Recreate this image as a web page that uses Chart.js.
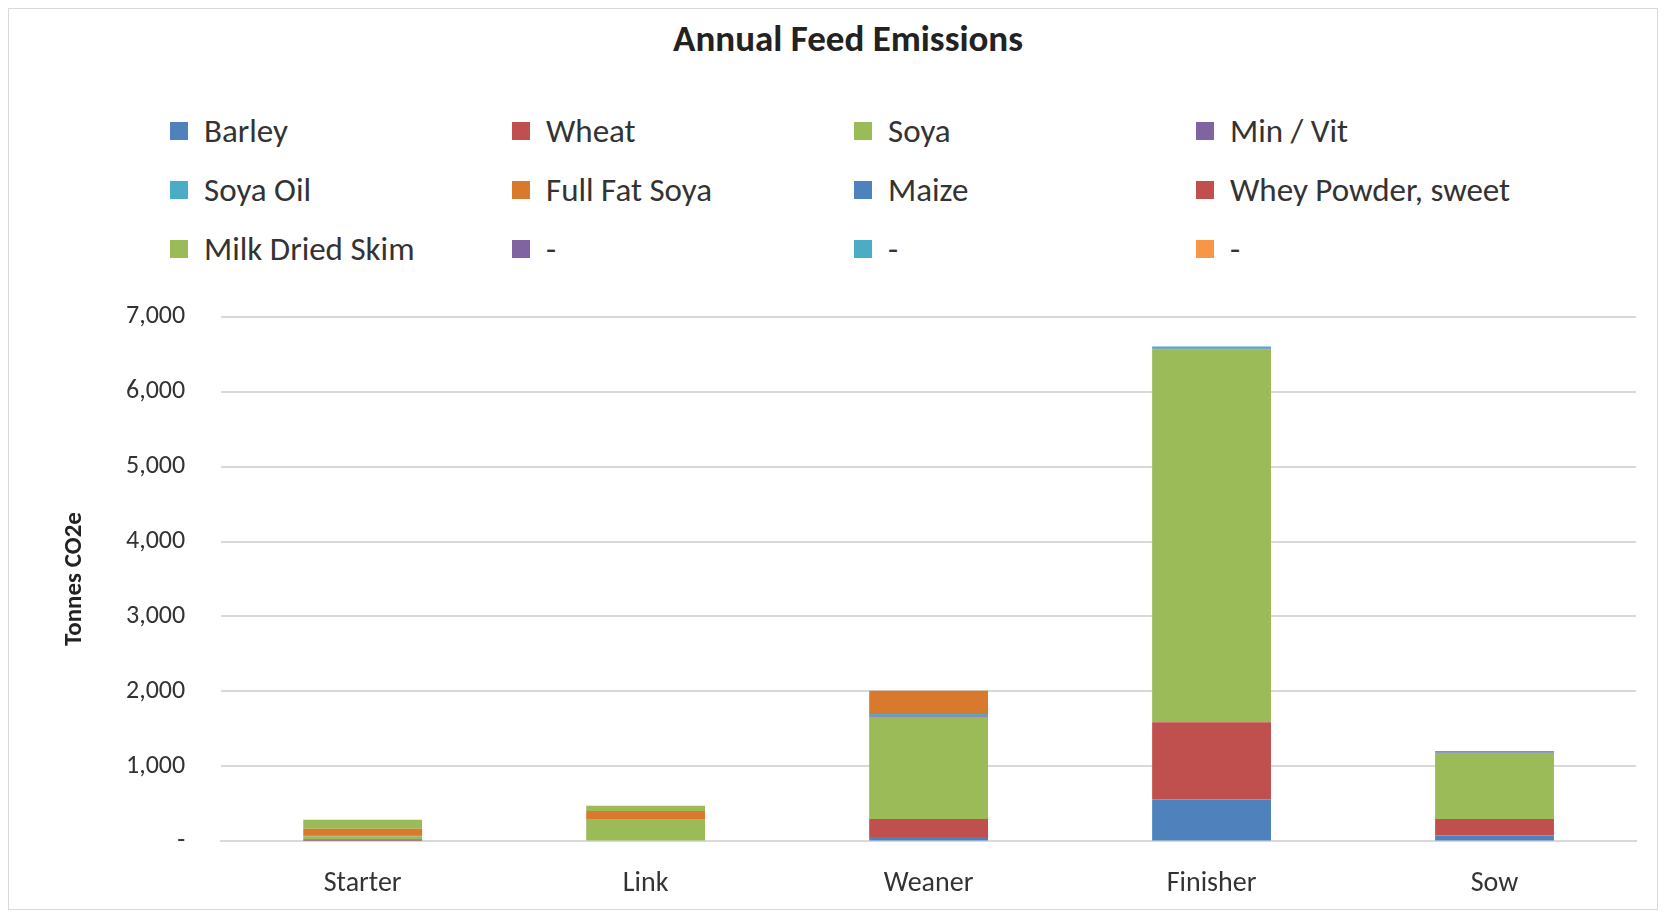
<!DOCTYPE html>
<html>
<head>
<meta charset="utf-8">
<script src="https://cdn.jsdelivr.net/npm/chart.js@4"></script>
<style>
  body { margin: 0; background: #fff; font-family: Calibri, Carlito, "Open Sans", sans-serif; overflow: hidden; }
  #frame { position: absolute; left: 8px; top: 8px; width: 1648px; height: 900px; border: 1px solid #d9d9d9; }
  #title { position: absolute; top: 16px; width: 100%; text-align: center; font-weight: bold; font-size: 37px; color: #222; padding-left: 30px; box-sizing: border-box; }
  #legend { position: absolute; left: 170px; top: 112px; display: grid; grid-template-columns: 342px 342px 342px 342px; row-gap: 21px; }
  .item { font-size: 33px; color: #333; display: flex; align-items: center; height: 38px; }
  .sw { width: 18px; height: 18px; margin-right: 16px; }
  #wrap { position: absolute; left: 0; top: 265px; width: 1666px; height: 654px; }
</style>
</head>
<body>
<div id="frame"></div>
<div id="title">Annual Feed Emissions</div>
<div id="legend"></div>
<div id="wrap"><canvas id="c"></canvas></div>
<script>
const categories = ['Starter', 'Link', 'Weaner', 'Finisher', 'Sow'];
const seriesNames = ['Barley', 'Wheat', 'Soya', 'Min / Vit', 'Soya Oil', 'Full Fat Soya', 'Maize', 'Whey Powder, sweet', 'Milk Dried Skim', '-', '-', '-'];
const seriesColors = ['#4F81BD', '#C0504D', '#9BBB59', '#8064A2', '#4BACC6', '#D9792E', '#4F81BD', '#C0504D', '#9BBB59', '#8064A2', '#4BACC6', '#F79646'];
const barley = [10, 0, 60, 560, 80];
const wheat = [20, 0, 240, 1030, 220];
const soya = [40, 290, 1360, 4970, 880];
const minVit = [5, 5, 10, 10, 5];
const soyaOil = [0, 0, 30, 30, 20];
const fullFatSoya = [95, 110, 310, 0, 0];
const maize = [0, 0, 0, 0, 0];
const whey = [0, 0, 0, 0, 0];
const milkDriedSkim = [120, 70, 0, 0, 0];
const blank = [0, 0, 0, 0, 0];
const seriesValues = [barley, wheat, soya, minVit, soyaOil, fullFatSoya, maize, whey, milkDriedSkim, blank, blank, blank];

const legend = document.getElementById('legend');
seriesNames.forEach((n, i) => {
  const d = document.createElement('div');
  d.className = 'item';
  d.innerHTML = '<span class="sw" style="background:' + seriesColors[i] + '"></span>' + n;
  legend.appendChild(d);
});

const fam = 'Calibri, Carlito, "Open Sans", sans-serif';
new Chart(document.getElementById('c'), {
  type: 'bar',
  data: {
    labels: categories,
    datasets: seriesNames.map((n, i) => ({
      label: n, data: seriesValues[i], backgroundColor: seriesColors[i],
      barPercentage: 0.42, categoryPercentage: 1, borderWidth: 0
    }))
  },
  options: {
    responsive: true, maintainAspectRatio: false, animation: false,
    layout: { padding: { left: 60, right: 30, top: 0, bottom: 0 } },
    plugins: { legend: { display: false }, tooltip: { enabled: false } },
    scales: {
      x: {
        stacked: true,
        grid: { display: false },
        border: { color: '#d9d9d9', width: 2 },
        ticks: { color: '#333', font: { size: 28, family: fam }, padding: 18 }
      },
      y: {
        stacked: true, min: 0, max: 7000,
        ticks: {
          stepSize: 1000, color: '#333', padding: 36,
          font: { size: 26, family: fam },
          callback: v => v === 0 ? '-' : v.toLocaleString('en-US')
        },
        grid: { color: '#d9d9d9', lineWidth: 2, drawTicks: false },
        border: { display: false },
        title: { display: true, text: 'Tonnes CO2e', color: '#222', padding: 0, font: { size: 25, weight: 'bold', family: fam } }
      }
    }
  }
});
</script>
</body>
</html>
